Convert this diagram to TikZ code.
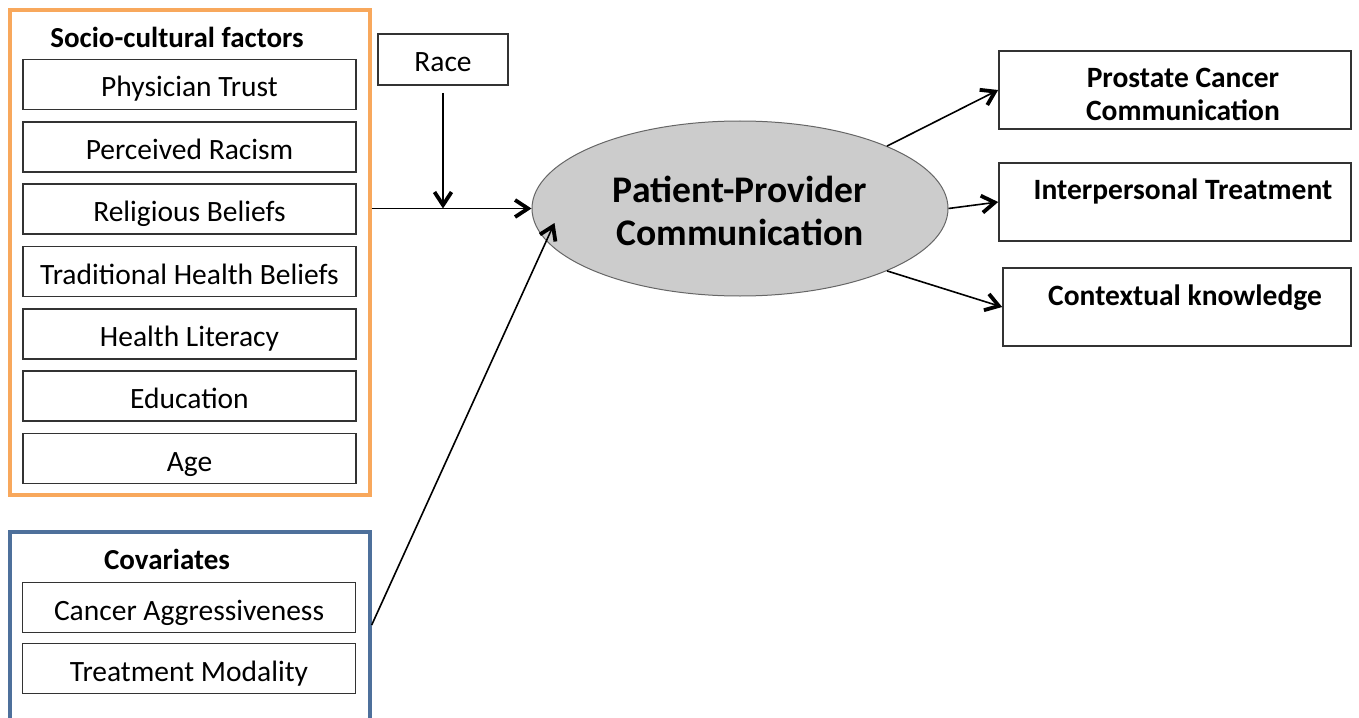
\documentclass[tikz,border=0pt]{standalone}
\usepackage{fontspec}
\setmainfont{Carlito}
\usetikzlibrary{arrows.meta,shapes.geometric}
\definecolor{frameorange}{RGB}{248,168,92}
\definecolor{frameblue}{RGB}{78,112,155}
\definecolor{ellfill}{RGB}{204,204,204}
\begin{document}
\begin{tikzpicture}[x=0.5pt,y=-0.5pt,
  item/.style={draw=black!80, line width=0.85pt, minimum width=166.5pt,
    minimum height=25pt, inner sep=0pt, font=\fontsize{14.75}{17}\selectfont,
    text height=12.5pt, text depth=0pt},
  group/.style={line width=1.7pt, inner sep=0pt},
  heading/.style={font=\fontsize{14.5}{17}\selectfont\bfseries, anchor=base, inner sep=0pt},
  outcome/.style={draw=black!80, line width=0.85pt, inner sep=0pt, minimum height=39pt,
    font=\fontsize{14.75}{16.5}\selectfont\bfseries, align=center},
  link/.style={line width=0.8pt, -{Straight Barb[length=6.5pt,width=8.5pt,line width=1.9pt]}}
]
\useasboundingbox (0,0) rectangle (1359,717);

% socio-cultural factors group
\node[group, draw=frameorange, minimum width=180pt, minimum height=242.5pt] (socio) at (190,252.5) {};
\node[heading] (sociohead) at (177,47.5) {Socio-cultural factors};
\node[item] (trust) at (189.5,84.5) {Physician Trust};
\node[item] (racism) at (189.5,147) {Perceived Racism};
\node[item] (religion) at (189.5,209) {Religious Beliefs};
\node[item] (tradition) at (189.5,271.5) {Traditional Health Beliefs};
\node[item] (literacy) at (189.5,334) {Health Literacy};
\node[item] (education) at (189.5,396) {Education};
\node[item] (age) at (189.5,458.5) {Age};

% moderator
\node[item, minimum width=65pt, minimum height=25.5pt] (race) at (443,59.5) {Race};

% central construct
\node[ellipse, draw=black!60, line width=0.5pt, fill=ellfill, minimum width=208pt,
  minimum height=87.5pt, inner sep=0pt, align=center,
  font=\fontsize{18.8}{21.5}\selectfont\bfseries] (ppc) at (740,208.5)
  {\rule{0pt}{15.5pt}Patient-Provider\\Communication};

% covariates group
\node[group, draw=frameblue, minimum width=180pt, minimum height=100pt] (cov) at (190,632) {};
\node[heading] (covhead) at (167,569.5) {Covariates};
\node[item] (aggr) at (189,607.5) {Cancer Aggressiveness};
\node[item] (modality) at (189,668.5) {Treatment Modality};

% outcomes
\node[outcome, minimum width=176pt] (pcc) at (1175,90)
  {\hspace*{8pt}\rule{0pt}{14.5pt}Prostate Cancer\\\hspace*{8pt}Communication};
\node[outcome, minimum width=176pt, text height=10pt, text depth=13pt] (interp) at (1175,202)
  {\hspace*{8pt}Interpersonal Treatment};
\node[outcome, minimum width=174pt, text height=10pt, text depth=12pt] (ctx) at (1177,307)
  {\hspace*{8pt}Contextual knowledge};

% connectors
\coordinate (join) at (race.south |- ppc.west);
\draw[link] (socio.east |- ppc.west) -- (ppc.west);
\draw[link] ([yshift=-3.5pt]race.south) -- (join);
\draw[link] (cov.east |- 0,625) -- ([xshift=11.5pt,yshift=-7.25pt]ppc.west);
\draw[link] (ppc.23) -- (pcc.west);
\draw[link] (ppc.east) -- (interp.west);
\draw[link] (ppc.-23) -- (ctx.west);
\end{tikzpicture}
\end{document}
